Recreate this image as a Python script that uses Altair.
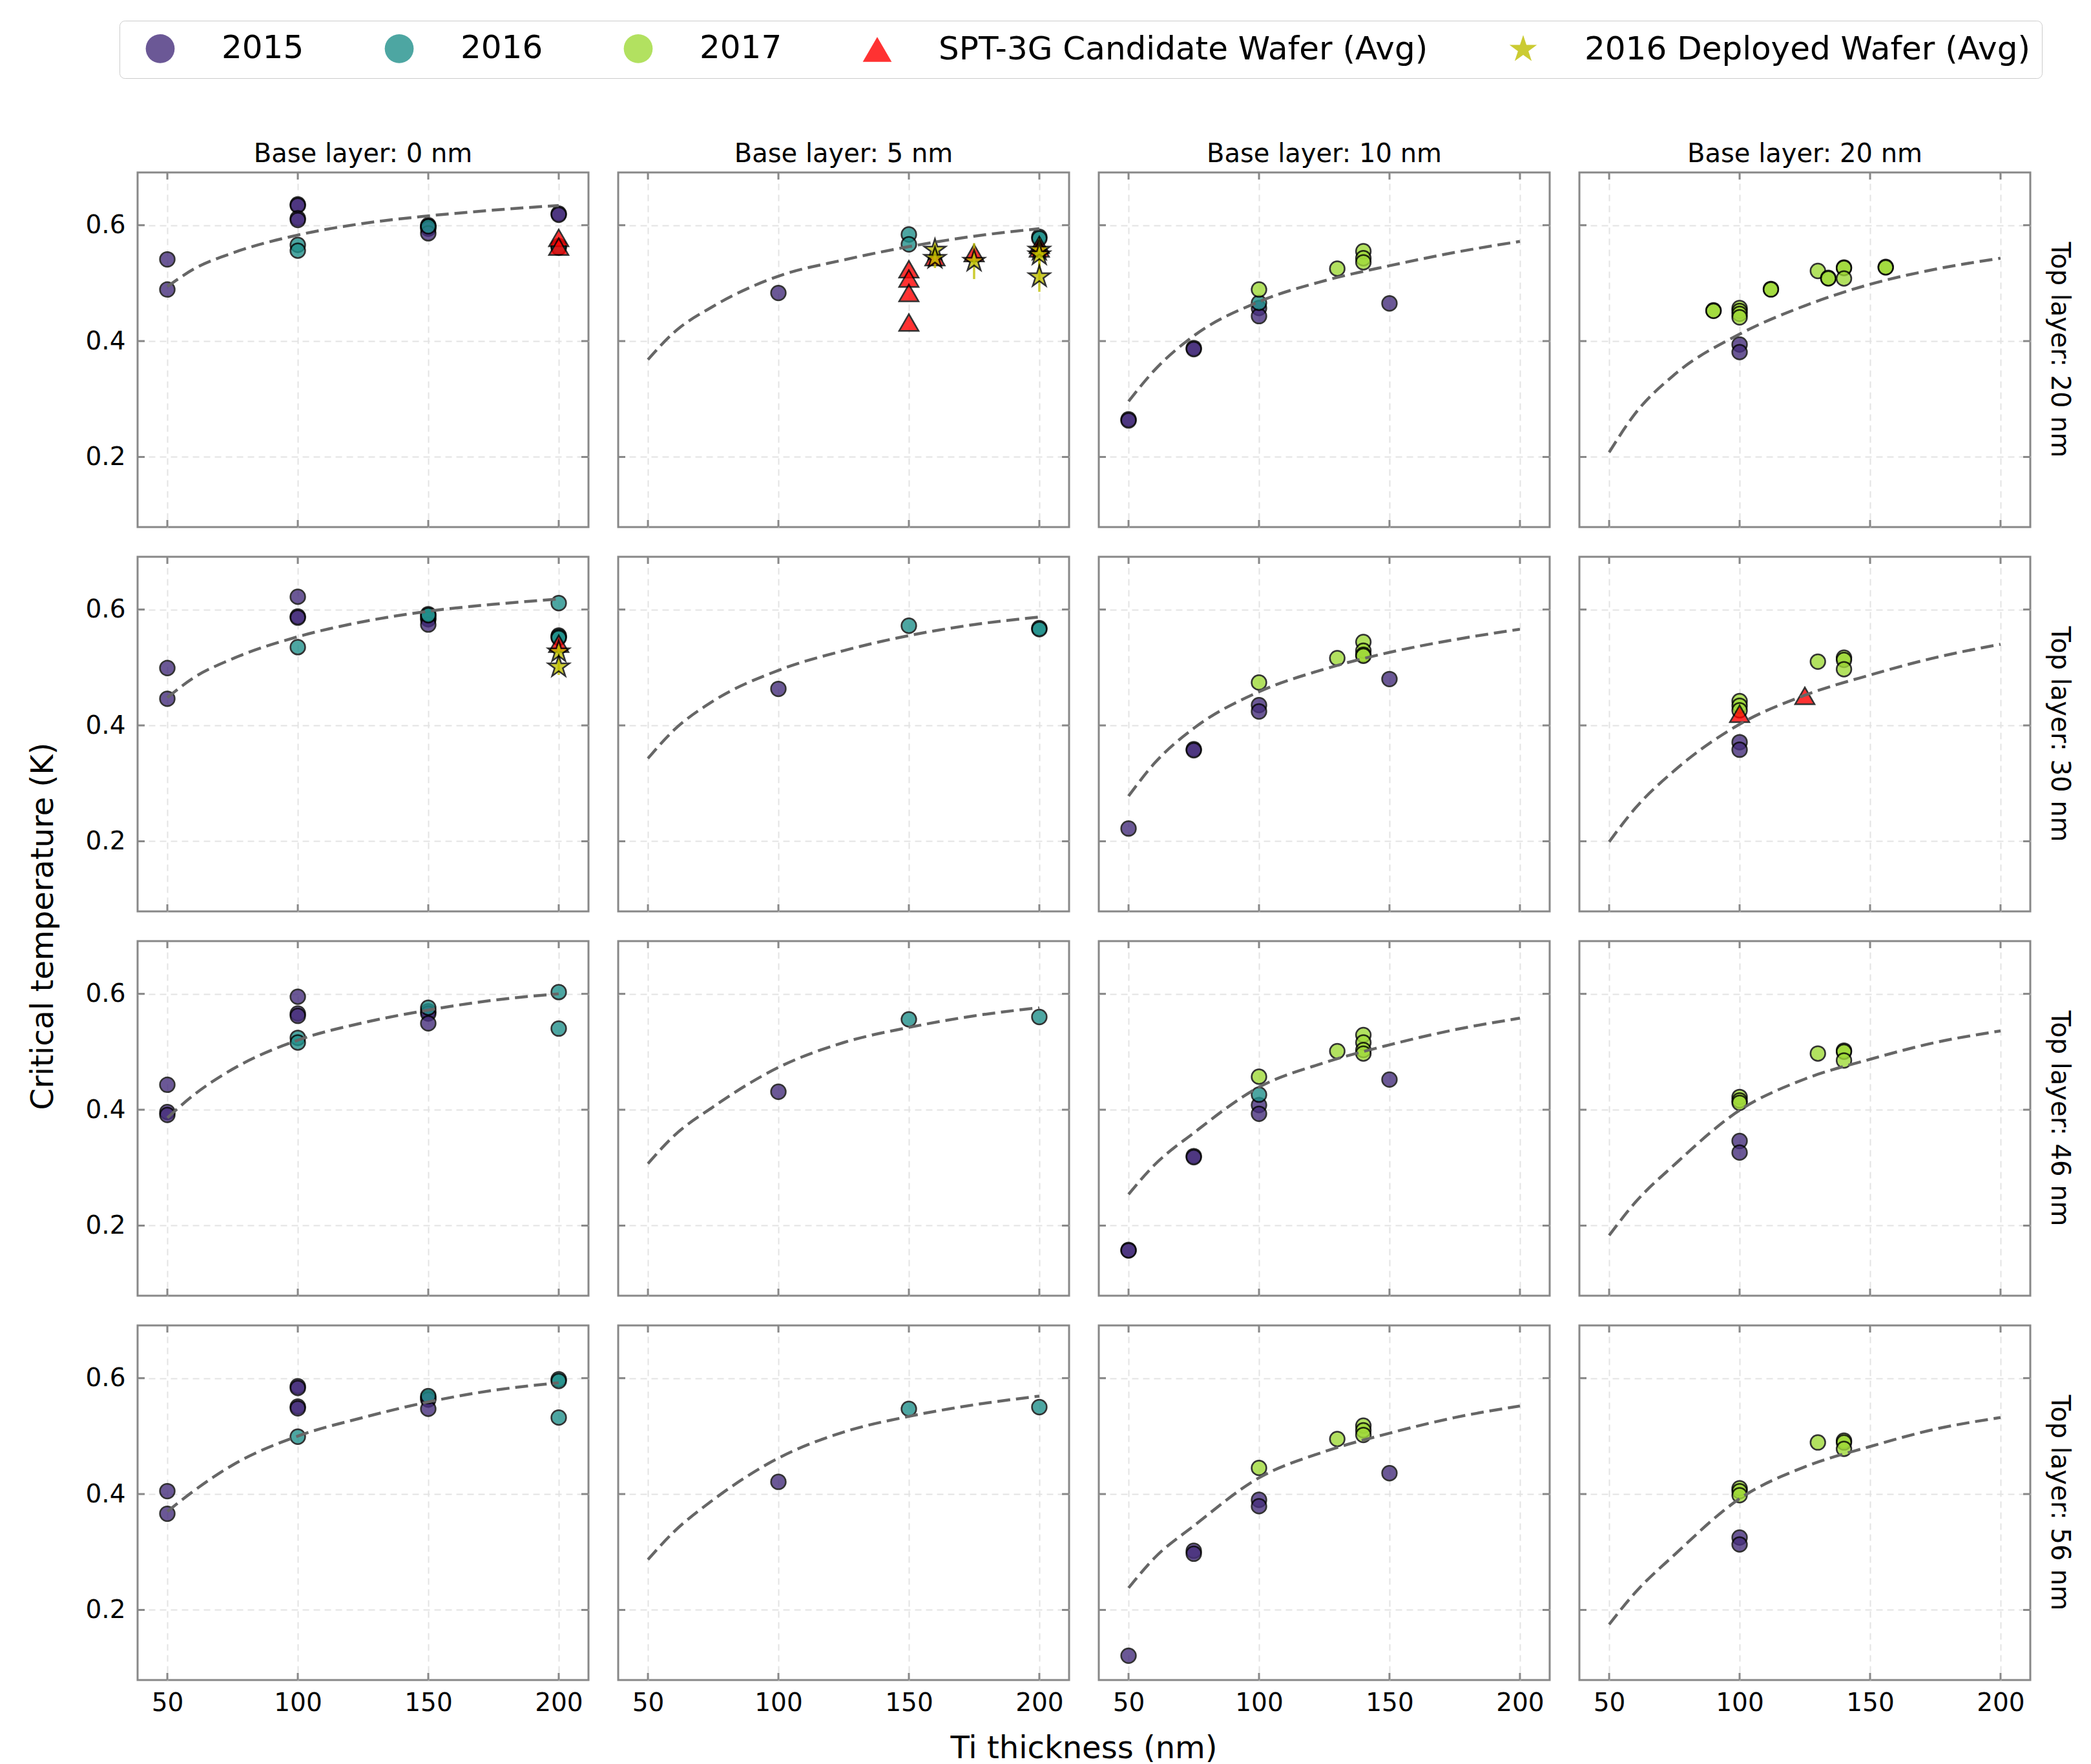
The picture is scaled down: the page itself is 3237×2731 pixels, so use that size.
import altair as alt
import pandas as pd

TOP_LAYERS = [20, 30, 46, 56]
BASE_LAYERS = [0, 5, 10, 20]
YEARS = ["2015", "2016", "2017"]
CAND_LABEL = "SPT-3G Candidate Wafer (Avg)"
DEPL_LABEL = "2016 Deployed Wafer (Avg)"
SERIES = YEARS + [CAND_LABEL, DEPL_LABEL]
SERIES_COLORS = ["#472f7d", "#21918c", "#a0da39", "#ff0000", "#bfbf00"]
STAR_PATH = ("M0,-1L0.225,-0.309L0.951,-0.309L0.363,0.118L0.588,0.809L0,0.382"
             "L-0.588,0.809L-0.363,0.118L-0.951,-0.309L-0.225,-0.309Z")
SERIES_SHAPES = ["circle", "circle", "circle", "triangle-up", STAR_PATH]
X_TICKS = [50, 100, 150, 200]
Y_TICKS = [0.2, 0.4, 0.6]

# (top layer nm, base layer nm, Ti thickness nm, Tc K)
TC_2015 = [
    (20, 0, 50, 0.541), (20, 0, 50, 0.489), (20, 0, 100, 0.636), (20, 0, 100, 0.634),
    (20, 0, 100, 0.612), (20, 0, 100, 0.609), (20, 0, 150, 0.600), (20, 0, 150, 0.597),
    (20, 0, 150, 0.594), (20, 0, 150, 0.586), (20, 0, 200, 0.620), (20, 0, 200, 0.618),
    (20, 5, 100, 0.483),
    (20, 10, 50, 0.265), (20, 10, 50, 0.263), (20, 10, 75, 0.388), (20, 10, 75, 0.386),
    (20, 10, 100, 0.457), (20, 10, 100, 0.443), (20, 10, 150, 0.465),
    (20, 20, 100, 0.394), (20, 20, 100, 0.381),
    (30, 0, 50, 0.499), (30, 0, 50, 0.446), (30, 0, 100, 0.622), (30, 0, 100, 0.588),
    (30, 0, 100, 0.586), (30, 0, 150, 0.586), (30, 0, 150, 0.583), (30, 0, 150, 0.574),
    (30, 5, 100, 0.463),
    (30, 10, 50, 0.222), (30, 10, 75, 0.359), (30, 10, 75, 0.357), (30, 10, 100, 0.435),
    (30, 10, 100, 0.424), (30, 10, 150, 0.480),
    (30, 20, 100, 0.371), (30, 20, 100, 0.358),
    (46, 0, 50, 0.443), (46, 0, 50, 0.396), (46, 0, 50, 0.391), (46, 0, 100, 0.595),
    (46, 0, 100, 0.566), (46, 0, 100, 0.562), (46, 0, 150, 0.570), (46, 0, 150, 0.566),
    (46, 0, 150, 0.549),
    (46, 5, 100, 0.431),
    (46, 10, 50, 0.158), (46, 10, 50, 0.157), (46, 10, 75, 0.320), (46, 10, 75, 0.318),
    (46, 10, 100, 0.408), (46, 10, 100, 0.393), (46, 10, 150, 0.452),
    (46, 20, 100, 0.346), (46, 20, 100, 0.326),
    (56, 0, 50, 0.405), (56, 0, 50, 0.366), (56, 0, 100, 0.586), (56, 0, 100, 0.583),
    (56, 0, 100, 0.551), (56, 0, 100, 0.548), (56, 0, 150, 0.566), (56, 0, 150, 0.563),
    (56, 0, 150, 0.547),
    (56, 5, 100, 0.421),
    (56, 10, 50, 0.121), (56, 10, 75, 0.302), (56, 10, 75, 0.297), (56, 10, 100, 0.390),
    (56, 10, 100, 0.379), (56, 10, 150, 0.436),
    (56, 20, 100, 0.325), (56, 20, 100, 0.313),
]

TC_2016 = [
    (20, 0, 100, 0.566), (20, 0, 100, 0.556), (20, 0, 150, 0.598), (20, 0, 200, 0.564),
    (20, 0, 200, 0.561),
    (20, 5, 150, 0.584), (20, 5, 150, 0.567), (20, 5, 200, 0.580), (20, 5, 200, 0.577),
    (20, 10, 100, 0.466),
    (30, 0, 100, 0.535), (30, 0, 150, 0.592), (30, 0, 150, 0.590), (30, 0, 200, 0.611),
    (30, 0, 200, 0.555), (30, 0, 200, 0.553), (30, 0, 200, 0.551),
    (30, 5, 150, 0.572), (30, 5, 200, 0.568), (30, 5, 200, 0.566),
    (46, 0, 100, 0.524), (46, 0, 100, 0.516), (46, 0, 150, 0.576), (46, 0, 200, 0.603),
    (46, 0, 200, 0.540),
    (46, 5, 150, 0.556), (46, 5, 200, 0.560),
    (46, 10, 100, 0.426),
    (56, 0, 100, 0.499), (56, 0, 150, 0.569), (56, 0, 200, 0.598), (56, 0, 200, 0.595),
    (56, 0, 200, 0.532),
    (56, 5, 150, 0.547), (56, 5, 200, 0.550),
]

TC_2017 = [
    (20, 10, 100, 0.489), (20, 10, 130, 0.525), (20, 10, 140, 0.555), (20, 10, 140, 0.543),
    (20, 10, 140, 0.536),
    (20, 20, 90, 0.453), (20, 20, 90, 0.452), (20, 20, 100, 0.457), (20, 20, 100, 0.452),
    (20, 20, 100, 0.447), (20, 20, 100, 0.441), (20, 20, 112, 0.490), (20, 20, 112, 0.489),
    (20, 20, 130, 0.521), (20, 20, 134, 0.509), (20, 20, 134, 0.508), (20, 20, 140, 0.527),
    (20, 20, 140, 0.526), (20, 20, 140, 0.508), (20, 20, 156, 0.528), (20, 20, 156, 0.527),
    (30, 10, 100, 0.474), (30, 10, 130, 0.516), (30, 10, 140, 0.544), (30, 10, 140, 0.529),
    (30, 10, 140, 0.522), (30, 10, 140, 0.520),
    (30, 20, 100, 0.442), (30, 20, 100, 0.434), (30, 20, 100, 0.426), (30, 20, 130, 0.510),
    (30, 20, 140, 0.517), (30, 20, 140, 0.513), (30, 20, 140, 0.497),
    (46, 10, 100, 0.457), (46, 10, 130, 0.501), (46, 10, 140, 0.529), (46, 10, 140, 0.516),
    (46, 10, 140, 0.503), (46, 10, 140, 0.497),
    (46, 20, 100, 0.422), (46, 20, 100, 0.416), (46, 20, 100, 0.412), (46, 20, 130, 0.497),
    (46, 20, 140, 0.502), (46, 20, 140, 0.500), (46, 20, 140, 0.485),
    (56, 10, 100, 0.445), (56, 10, 130, 0.495), (56, 10, 140, 0.518), (56, 10, 140, 0.510),
    (56, 10, 140, 0.502),
    (56, 20, 100, 0.410), (56, 20, 100, 0.405), (56, 20, 100, 0.398), (56, 20, 130, 0.489),
    (56, 20, 140, 0.492), (56, 20, 140, 0.489), (56, 20, 140, 0.478),
]

CANDIDATE = [
    (20, 0, 200, 0.578), (20, 0, 200, 0.563),
    (20, 5, 150, 0.524), (20, 5, 150, 0.508), (20, 5, 150, 0.483), (20, 5, 150, 0.432),
    (20, 5, 160, 0.545), (20, 5, 175, 0.552), (20, 5, 200, 0.566), (20, 5, 200, 0.560),
    (30, 0, 200, 0.541),
    (30, 20, 100, 0.420), (30, 20, 125, 0.451),
]

# (top, base, Ti thickness, Tc, error half-width)
DEPLOYED = [
    (20, 5, 160, 0.557, 0.010), (20, 5, 160, 0.543, 0.017), (20, 5, 175, 0.538, 0.031),
    (20, 5, 200, 0.557, 0.020), (20, 5, 200, 0.549, 0.020), (20, 5, 200, 0.511, 0.026),
    (30, 0, 200, 0.527, 0.010), (30, 0, 200, 0.501, 0.014),
]

FIT_X = [50, 60, 75, 100, 125, 150, 175, 200]
FIT_TC = {
    (20, 0): [0.494, 0.524, 0.552, 0.583, 0.603, 0.616, 0.626, 0.634],
    (20, 5): [0.368, 0.415, 0.460, 0.512, 0.540, 0.563, 0.581, 0.594],
    (20, 10): [0.296, 0.350, 0.409, 0.468, 0.504, 0.530, 0.553, 0.572],
    (20, 20): [0.208, 0.275, 0.342, 0.412, 0.461, 0.498, 0.524, 0.543],
    (30, 0): [0.448, 0.482, 0.515, 0.553, 0.579, 0.597, 0.609, 0.618],
    (30, 5): [0.343, 0.392, 0.442, 0.495, 0.529, 0.555, 0.574, 0.587],
    (30, 10): [0.278, 0.335, 0.395, 0.458, 0.497, 0.526, 0.548, 0.566],
    (30, 20): [0.199, 0.257, 0.322, 0.402, 0.452, 0.487, 0.517, 0.540],
    (46, 0): [0.386, 0.425, 0.470, 0.520, 0.550, 0.572, 0.589, 0.600],
    (46, 5): [0.307, 0.355, 0.405, 0.473, 0.516, 0.542, 0.562, 0.576],
    (46, 10): [0.254, 0.305, 0.360, 0.439, 0.481, 0.512, 0.538, 0.558],
    (46, 20): [0.183, 0.240, 0.305, 0.399, 0.453, 0.487, 0.516, 0.536],
    (56, 0): [0.370, 0.405, 0.450, 0.500, 0.532, 0.559, 0.579, 0.592],
    (56, 5): [0.287, 0.335, 0.390, 0.462, 0.507, 0.534, 0.554, 0.569],
    (56, 10): [0.238, 0.290, 0.345, 0.428, 0.473, 0.505, 0.532, 0.552],
    (56, 20): [0.175, 0.230, 0.295, 0.392, 0.447, 0.482, 0.512, 0.532],
}

PANEL_W = 698
PANEL_H = 549
TICK_LEN = 11


def top_label(t):
    return f"Top layer: {t} nm"


def base_label(b):
    return f"Base layer: {b} nm"


TOP_LABELS = [top_label(t) for t in TOP_LAYERS]
BASE_LABELS = [base_label(b) for b in BASE_LAYERS]

rows = []
for series, pts in zip(YEARS, [TC_2015, TC_2016, TC_2017]):
    for t, b, x, y in pts:
        rows.append(dict(top=top_label(t), base=base_label(b), x=x, y=y,
                         series=series, kind="pt", lo=y, hi=y))
for t, b, x, y in CANDIDATE:
    rows.append(dict(top=top_label(t), base=base_label(b), x=x, y=y,
                     series=CAND_LABEL, kind="tri", lo=y, hi=y))
for t, b, x, y, e in DEPLOYED:
    rows.append(dict(top=top_label(t), base=base_label(b), x=x, y=y,
                     series=DEPL_LABEL, kind="star", lo=y - e, hi=y + e))
for (t, b), ys in FIT_TC.items():
    for x, y in zip(FIT_X, ys):
        rows.append(dict(top=top_label(t), base=base_label(b), x=x, y=y,
                         series="fit", kind="fit", lo=y, hi=y))
# inner tick marks on every panel (at the axis tick values)
for t in TOP_LAYERS:
    for b in BASE_LAYERS:
        for v in Y_TICKS:
            rows.append(dict(top=top_label(t), base=base_label(b), x=X_TICKS[0], y=v,
                             series="tick", kind="ytick", lo=v, hi=v))
        for v in X_TICKS:
            rows.append(dict(top=top_label(t), base=base_label(b), x=v, y=Y_TICKS[0],
                             series="tick", kind="xtick", lo=Y_TICKS[0], hi=Y_TICKS[0]))
df = pd.DataFrame(rows)

FONT = "DejaVu Sans"
X_SCALE = alt.Scale(domain=[38.6, 211.4], nice=False, zero=False)
Y_SCALE = alt.Scale(domain=[0.079, 0.691], nice=False, zero=False)

x_enc = alt.X("x:Q", scale=X_SCALE,
              axis=alt.Axis(values=X_TICKS, title=None, labelPadding=13))
y_enc = alt.Y("y:Q", scale=Y_SCALE,
              axis=alt.Axis(values=Y_TICKS, format=".1f", title=None, labelPadding=16))

legend = alt.Legend(
    orient="none", legendX=-28, legendY=-235, direction="horizontal", columns=5,
    title=None, labelFontSize=50, labelFont=FONT, labelColor="black",
    symbolSize=2000, symbolStrokeColor="black", symbolStrokeWidth=2.5,
    symbolOpacity=0.8, symbolOffset=20, labelOffset=70, columnPadding=102, padding=18,
    strokeColor="#cccccc", cornerRadius=8, fillColor="white", labelLimit=0,
)
color_enc = alt.Color("series:N", scale=alt.Scale(domain=SERIES, range=SERIES_COLORS),
                      legend=legend)
shape_enc = alt.Shape("series:N", scale=alt.Scale(domain=SERIES, range=SERIES_SHAPES),
                      legend=legend)

tick_style = dict(color="#888888", strokeWidth=3)
yticks_left = alt.Chart().mark_rule(**tick_style).encode(
    y=y_enc, x=alt.value(0), x2=alt.value(TICK_LEN)
).transform_filter(alt.datum.kind == "ytick")
yticks_right = alt.Chart().mark_rule(**tick_style).encode(
    y=y_enc, x=alt.value(PANEL_W - TICK_LEN), x2=alt.value(PANEL_W)
).transform_filter(alt.datum.kind == "ytick")
xticks_bottom = alt.Chart().mark_rule(**tick_style).encode(
    x=x_enc, y=alt.value(PANEL_H - TICK_LEN), y2=alt.value(PANEL_H)
).transform_filter(alt.datum.kind == "xtick")
xticks_top = alt.Chart().mark_rule(**tick_style).encode(
    x=x_enc, y=alt.value(0), y2=alt.value(TICK_LEN)
).transform_filter(alt.datum.kind == "xtick")

circles = alt.Chart().mark_point(
    filled=True, opacity=0.8, stroke="black", strokeWidth=2.5, size=520
).encode(x=x_enc, y=y_enc, color=color_enc, shape=shape_enc).transform_filter(
    alt.datum.kind == "pt")

triangles = alt.Chart().mark_point(
    filled=True, opacity=0.8, stroke="black", strokeWidth=2.5, size=900
).encode(x=x_enc, y=y_enc, color=color_enc, shape=shape_enc).transform_filter(
    alt.datum.kind == "tri")

errbars = alt.Chart().mark_rule(color="#bfbf00", strokeWidth=3.5, opacity=0.8).encode(
    x=x_enc, y=alt.Y("lo:Q", scale=Y_SCALE), y2="hi:Q"
).transform_filter(alt.datum.kind == "star")

stars = alt.Chart().mark_point(
    filled=True, opacity=0.8, stroke="black", strokeWidth=2.5, size=1200
).encode(x=x_enc, y=y_enc, color=color_enc, shape=shape_enc).transform_filter(
    alt.datum.kind == "star")

fit = alt.Chart().mark_line(
    color="#666666", strokeWidth=4.5, strokeDash=[20, 9], interpolate="monotone"
).encode(x=x_enc, y=y_enc, order="x:Q").transform_filter(alt.datum.kind == "fit")

panel = alt.layer(
    yticks_left, yticks_right, xticks_bottom, xticks_top,
    circles, triangles, errbars, stars, fit
).properties(width=PANEL_W, height=PANEL_H)

chart = panel.facet(
    data=df,
    row=alt.Row("top:N", sort=TOP_LABELS, title="Critical temperature (K)",
                header=alt.Header(labelOrient="right", labelAngle=90, labelFontSize=40,
                                  labelFont=FONT, labelColor="black", labelPadding=22,
                                  titleOrient="left", titleAngle=270, titleFontSize=48,
                                  titleFont=FONT, titleFontWeight="normal",
                                  titleColor="black", titlePadding=-19)),
    column=alt.Column("base:N", sort=BASE_LABELS, title="Ti thickness (nm)",
                      header=alt.Header(labelOrient="top", labelFontSize=40, labelFont=FONT,
                                        labelColor="black", labelPadding=5,
                                        titleOrient="bottom", titleFontSize=48,
                                        titleFont=FONT, titleFontWeight="normal",
                                        titleColor="black", titlePadding=18)),
    spacing=40,
).properties(
    padding={"left": 43, "top": 31, "right": 20, "bottom": 10},
    background="white",
).configure_view(
    stroke="#888888", strokeWidth=3
).configure_axis(
    grid=True, gridColor="#e3e3e3", gridDash=[10, 7], gridWidth=2,
    domain=False, ticks=False, labelFont=FONT, labelFontSize=39, labelColor="black",
)

chart.save("out.html", embed_options={"renderer": "svg", "actions": False})
